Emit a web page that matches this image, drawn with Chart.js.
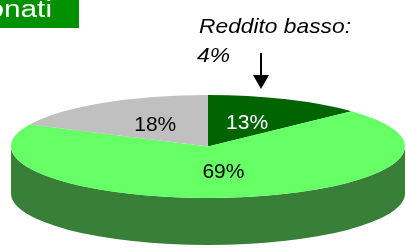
<!DOCTYPE html>
<html>
<head>
<meta charset="utf-8">
<script src="https://cdn.jsdelivr.net/npm/chart.js@4/dist/chart.umd.min.js"></script>
<style>
  html, body { margin: 0; padding: 0; background: #fff; }
  canvas { display: block; }
</style>
</head>
<body>
<canvas id="pie" width="406" height="248"></canvas>
<script>
// data
const categories = ['Quota 1', 'Quota 2', 'Quota 3'];
const shares = [13, 69, 18];
const lowIncomeShare = 4;
const titleText = 'Pensionati';
const noteLines = ['Reddito basso:', lowIncomeShare + '%'];

// look
const sliceColors = ['#006400', '#66ff66', '#c0c0c0'];
const sideColors = ['#004c00', '#388038', '#8c8c8c'];
const labelColors = ['#ffffff', '#000000', '#000000'];
const FONT = '"Liberation Sans", Arial, sans-serif';
const RX = 197, RY = 51.5, DEPTH = 47;

const pie3d = {
  id: 'pie3d',
  beforeDatasetsDraw(chart) {
    const ctx = chart.ctx;
    const arcs = chart.getDatasetMeta(0).data;
    const cx = arcs[0].x, cy = arcs[0].y, r = arcs[0].outerRadius;
    // side wall, only the front half is visible
    arcs.forEach((arc, i) => {
      [-2 * Math.PI, 0, 2 * Math.PI].forEach(off => {
        const a0 = Math.max(arc.startAngle, off);
        const a1 = Math.min(arc.endAngle, off + Math.PI);
        if (a1 <= a0) return;
        ctx.beginPath();
        ctx.ellipse(cx, cy, RX, RY, 0, a0, a1);
        ctx.ellipse(cx, cy + DEPTH, RX, RY, 0, a1, a0, true);
        ctx.closePath();
        ctx.fillStyle = sideColors[i];
        ctx.fill();
      });
    });
    // squash the top face into an ellipse
    ctx.save();
    ctx.translate(cx, cy);
    ctx.scale(RX / r, RY / r);
    ctx.translate(-cx, -cy);
  },
  afterDatasetsDraw(chart) {
    const ctx = chart.ctx;
    ctx.restore();
    const arcs = chart.getDatasetMeta(0).data;
    ctx.save();
    ctx.font = '21px ' + FONT;
    ctx.textAlign = 'center';
    ctx.textBaseline = 'middle';
    arcs.forEach((arc, i) => {
      const mid = (arc.startAngle + arc.endAngle) / 2;
      const px = arc.x + RX * 0.5 * Math.cos(mid);
      const py = arc.y + RY * 0.5 * Math.sin(mid);
      ctx.fillStyle = labelColors[i];
      ctx.fillText(shares[i] + '%', px, py);
    });
    ctx.restore();
  },
  afterDraw(chart) {
    const ctx = chart.ctx;
    // title box, cut at the left edge like the original ("...nati" visible)
    ctx.save();
    ctx.fillStyle = '#009100';
    ctx.fillRect(0, 0, 79, 28);
    ctx.fillStyle = '#ffffff';
    ctx.font = '23px ' + FONT;
    ctx.textAlign = 'left';
    ctx.textBaseline = 'alphabetic';
    const tail = ctx.measureText('nati').width;
    const head = ctx.measureText('Pensio').width;
    const k = 48 / tail;
    ctx.scale(k, 1);
    ctx.fillText(titleText, 4 / k - head, 17);
    ctx.restore();
    // note with arrow
    ctx.save();
    ctx.fillStyle = '#000000';
    ctx.font = 'italic 21px ' + FONT;
    ctx.textAlign = 'left';
    const kn = 152 / ctx.measureText(noteLines[0]).width;
    ctx.scale(kn, 1);
    ctx.fillText(noteLines[0], 199 / kn, 33);
    ctx.fillText(noteLines[1], 197 / kn, 62);
    ctx.restore();
    ctx.save();
    ctx.strokeStyle = '#000000';
    ctx.fillStyle = '#000000';
    ctx.lineWidth = 2;
    ctx.beginPath();
    ctx.moveTo(261, 53);
    ctx.lineTo(261, 78);
    ctx.stroke();
    ctx.beginPath();
    ctx.moveTo(253, 75);
    ctx.lineTo(269, 75);
    ctx.lineTo(261, 89);
    ctx.closePath();
    ctx.fill();
    ctx.restore();
  }
};

new Chart(document.getElementById('pie'), {
  type: 'pie',
  data: {
    labels: categories,
    datasets: [{
      data: shares,
      backgroundColor: sliceColors,
      borderWidth: 0,
      hoverOffset: 0,
      clip: false
    }]
  },
  options: {
    responsive: false,
    animation: false,
    events: [],
    layout: { padding: { left: 10, right: 0, top: 45, bottom: 0 } },
    plugins: {
      legend: { display: false },
      tooltip: { enabled: false },
      title: { display: false }
    }
  },
  plugins: [pie3d]
});
</script>
</body>
</html>
